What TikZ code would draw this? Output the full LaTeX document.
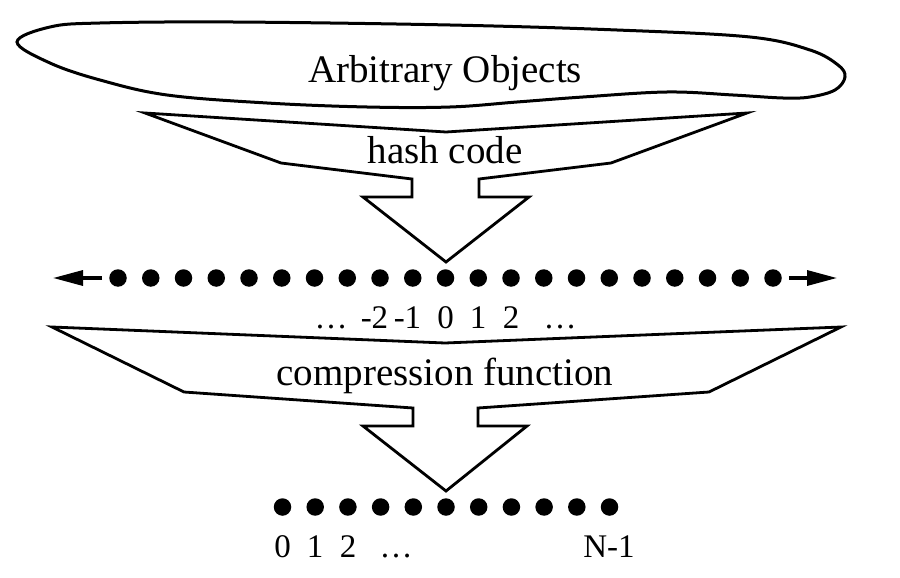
\documentclass[tikz,border=0pt]{standalone}
\usepackage{fontspec}
\setmainfont{Liberation Serif}
\usetikzlibrary{arrows.meta}
\begin{document}
\begin{tikzpicture}[x=1pt,y=-1pt,
  outline/.style={draw=black,line width=2.8pt,line join=miter},
  word/.style={font=\fontsize{39}{47}\selectfont,inner sep=0pt,anchor=base},
  num/.style={font=\fontsize{33}{40}\selectfont,inner sep=0pt,anchor=base},
  bead/.style={circle,fill=black,minimum size=17.5pt,inner sep=0pt},
  axisarrow/.style={line width=3.3pt,-{Triangle[length=30pt,width=15pt]},shorten <=7pt}
]
\useasboundingbox (0,0) rectangle (900,578);

% cloud of arbitrary objects
\draw[line width=3pt] plot[smooth cycle,tension=0.6] coordinates {
  (17,42) (50,27) (100,23) (233,22) (450,25) (617,30) (750,37) (810,50)
  (838,65) (845,77) (835,90) (810,97) (783,98) (733,95) (667,92) (583,97)
  (517,102) (450,107) (367,107) (267,103) (167,95) (100,80) (50,63)};
\node[word] (objects) at (445,82) {Arbitrary Objects};

% hash code block arrow
\draw[outline] (145,113) -- (446,132) -- (747,113) -- (611,163) -- (479,179)
  -- (479,197) -- (529,197) -- (446,262) -- (363,197) -- (412,197)
  -- (412,179) -- (281,163) -- cycle;
\node[word] (hash) at (445,163) {hash code};

% the integers
\foreach \k in {0,...,20}
  \node[bead] (t\k) at (118+32.75*\k,278) {};
\coordinate (negend) at (53,278);
\coordinate (posend) at (837,278);
\draw[axisarrow] (t0) -- (negend);
\draw[axisarrow] (t20) -- (posend);

\node[num] (tl1) at (331,328) {…};
\node[num] (tl2) at (374.5,328) {-2};
\node[num] (tl3) at (407.5,328) {-1};
\node[num] (tl4) at (445.5,328) {0};
\node[num] (tl5) at (478,328) {1};
\node[num] (tl6) at (511,328) {2};
\node[num] (tl7) at (560,328) {…};

% compression function block arrow
\draw[outline] (52,327) -- (445,343) -- (841,327) -- (709,392) -- (478,408)
  -- (478,426) -- (527,426) -- (446,491) -- (363,426) -- (413,426)
  -- (413,408) -- (184,392) -- cycle;
\node[word] (compress) at (445,385) {compression function};

% the table indices
\foreach \k in {0,...,10}
  \node[bead] (b\k) at (282.5+32.7*\k,507) {};
\node[num] (bl1) at (282.5,557) {0};
\node[num] (bl2) at (315,557) {1};
\node[num] (bl3) at (348,557) {2};
\node[num] (bl4) at (396,557) {…};
\node[num] (bl5) at (609,557) {N-1};
\end{tikzpicture}
\end{document}
